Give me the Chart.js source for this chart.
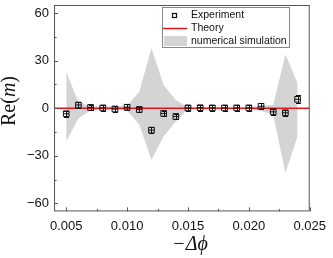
<!DOCTYPE html>
<html>
<head>
<meta charset="utf-8">
<script src="https://cdn.jsdelivr.net/npm/chart.js@4.4.0/dist/chart.umd.min.js"></script>
<style>
  html, body { margin: 0; padding: 0; background: #fff; }
  #wrap { width: 333px; height: 258px; }
</style>
</head>
<body>
<div id="wrap"><canvas id="reChart"></canvas></div>
<script>
// data
const phi = [0.005, 0.006, 0.007, 0.008, 0.009, 0.010, 0.011, 0.012, 0.013, 0.014,
             0.015, 0.016, 0.017, 0.018, 0.019, 0.020, 0.021, 0.022, 0.023, 0.024];
const expRe = [-3.5, 2.0, 0.5, 0.2, -0.5, 0.6, -0.8, -13.8, -3.3, -5.2,
               0.2, 0.3, 0.2, 0.2, 0.2, 0.2, 1.2, -2.3, -2.9, 5.6];
const expErr = [1.8, 1.8, 1.8, 1.8, 1.8, 1.8, 1.8, 1.8, 1.8, 1.8,
                1.8, 1.8, 1.8, 1.8, 1.8, 1.8, 1.8, 1.8, 1.8, 2.4];
const simUpper = [22.6, 4.2, 1.0, 1.0, 1.0, 1.4, 10.4, 37.7, 14.6, 5.2,
                  0.5, 0.5, 0.5, 0.5, 0.5, 0.5, 1.6, 2.0, 34.0, 15.7];
const simLower = [-21.0, -6.3, -1.5, -1.0, -1.0, -1.5, -10.5, -32.4, -17.8, -8.4,
                  -0.5, -0.5, -0.5, -0.5, -0.5, -0.5, -1.7, -4.2, -40.8, -17.6];
const theoryX = [0.004, 0.025];
const theoryY = [0, 0];
const xTicks = [0.005, 0.010, 0.015, 0.020, 0.025];
const xMinor = [0.0075, 0.0125, 0.0175, 0.0225];
const yTicks = [-60, -30, 0, 30, 60];
const yMinor = [-45, -15, 15, 45];

const pts = (xs, ys) => xs.map((x, i) => ({ x: x, y: ys[i] }));
const fmtMinus = v => String(v).replace('-', '\u2212');

// error bars on the experiment points
const errorBars = {
  id: 'errorBars',
  afterDatasetsDraw(chart) {
    const { ctx, scales: { x, y } } = chart;
    ctx.save();
    ctx.strokeStyle = '#111';
    ctx.lineWidth = 1;
    phi.forEach((p, i) => {
      const px = Math.round(x.getPixelForValue(p)) + 0.5;
      const top = Math.round(y.getPixelForValue(expRe[i] + expErr[i])) + 0.5;
      const bot = Math.round(y.getPixelForValue(expRe[i] - expErr[i])) + 0.5;
      ctx.beginPath();
      ctx.moveTo(px, top); ctx.lineTo(px, bot);
      ctx.moveTo(px - 2.5, top); ctx.lineTo(px + 2.5, top);
      ctx.moveTo(px - 2.5, bot); ctx.lineTo(px + 2.5, bot);
      ctx.stroke();
    });
    ctx.restore();
  }
};

// box frame, inward ticks, axis titles, legend
const frame = {
  id: 'frame',
  afterDraw(chart) {
    const { ctx, chartArea: a, scales: { x, y } } = chart;
    ctx.save();
    ctx.strokeStyle = '#555';
    ctx.lineWidth = 1;
    ctx.strokeRect(a.left + 0.5, a.top + 0.5, a.right - a.left - 1, a.bottom - a.top - 1);

    ctx.beginPath();
    xTicks.forEach(v => {
      const px = Math.round(x.getPixelForValue(v)) + 0.5;
      ctx.moveTo(px, a.bottom); ctx.lineTo(px, a.bottom - 4);
    });
    xMinor.forEach(v => {
      const px = Math.round(x.getPixelForValue(v)) + 0.5;
      ctx.moveTo(px, a.bottom); ctx.lineTo(px, a.bottom - 2.5);
    });
    yTicks.forEach(v => {
      const py = Math.round(y.getPixelForValue(v)) + 0.5;
      ctx.moveTo(a.left, py); ctx.lineTo(a.left + 4, py);
    });
    yMinor.forEach(v => {
      const py = Math.round(y.getPixelForValue(v)) + 0.5;
      ctx.moveTo(a.left, py); ctx.lineTo(a.left + 2.5, py);
    });
    ctx.stroke();

    // y title: Re(m) with italic m
    ctx.fillStyle = '#111';
    ctx.textBaseline = 'middle';
    ctx.save();
    ctx.translate(10, 101);
    ctx.rotate(-Math.PI / 2);
    const up = '20px "Liberation Serif", "Times New Roman", serif';
    const it = 'italic 20px "Liberation Serif", "Times New Roman", serif';
    const parts = [['Re(', up], ['m', it], [')', up]];
    let total = 0;
    parts.forEach(p => { ctx.font = p[1]; total += ctx.measureText(p[0]).width; });
    let cx = -total / 2;
    ctx.textAlign = 'left';
    parts.forEach(p => { ctx.font = p[1]; ctx.fillText(p[0], cx, 0); cx += ctx.measureText(p[0]).width; });
    ctx.restore();

    // x title: −Δϕ
    ctx.font = 'italic 20px "Liberation Serif", "Times New Roman", serif';
    ctx.textAlign = 'center';
    ctx.textBaseline = 'alphabetic';
    ctx.fillText('\u2212\u0394\u03d5', 190, 250);

    // legend
    const lx = 162, ly = 7, lw = 127, lh = 40;
    ctx.fillStyle = '#fff';
    ctx.fillRect(lx, ly, lw, lh);
    ctx.strokeStyle = '#888';
    ctx.strokeRect(lx + 0.5, ly + 0.5, lw, lh);
    ctx.font = '10.5px "Liberation Sans", Arial, sans-serif';
    ctx.textAlign = 'left';
    ctx.textBaseline = 'middle';
    ctx.fillStyle = '#111';
    const ds = chart.data.datasets;
    // experiment
    ctx.strokeStyle = '#111';
    ctx.lineWidth = 1.2;
    ctx.strokeRect(172.5, 13.5, 4, 4);
    ctx.fillText(ds[0].label, 191, 15.5);
    // theory
    ctx.strokeStyle = '#e8141c';
    ctx.lineWidth = 1.5;
    ctx.beginPath(); ctx.moveTo(163, 28.5); ctx.lineTo(187, 28.5); ctx.stroke();
    ctx.fillText(ds[2].label, 191, 28.5);
    // simulation
    ctx.fillStyle = '#d4d4d4';
    ctx.fillRect(164, 36, 23, 10);
    ctx.fillStyle = '#111';
    ctx.fillText(ds[3].label, 191, 41.5);
    ctx.restore();
  }
};

const noOverhang = s => { s.paddingTop = 0; s.paddingBottom = 0; };

new Chart(document.getElementById('reChart'), {
  type: 'scatter',
  data: {
    datasets: [
      {
        label: 'Experiment',
        data: pts(phi, expRe),
        pointStyle: 'rect',
        pointRadius: 4,
        pointBorderWidth: 1,
        pointBorderColor: '#111',
        pointBackgroundColor: 'rgba(255,255,255,0)',
        order: 0
      },
      {
        label: 'mid line',
        data: pts(phi, expRe),
        pointStyle: 'line',
        pointRadius: 2.8,
        pointBorderWidth: 1,
        pointBorderColor: '#111',
        order: 0
      },
      {
        label: 'Theory',
        data: pts(theoryX, theoryY),
        showLine: true,
        borderColor: '#e8141c',
        borderWidth: 1.6,
        pointRadius: 0,
        order: 1
      },
      {
        label: 'numerical simulation',
        data: pts(phi, simUpper),
        showLine: true,
        borderWidth: 0,
        borderColor: 'rgba(0,0,0,0)',
        backgroundColor: '#d4d4d4',
        pointRadius: 0,
        fill: '+1',
        order: 2
      },
      {
        label: 'sim lower',
        data: pts(phi, simLower),
        showLine: true,
        borderWidth: 0,
        borderColor: 'rgba(0,0,0,0)',
        backgroundColor: '#d4d4d4',
        pointRadius: 0,
        fill: false,
        order: 2
      }
    ]
  },
  options: {
    responsive: true,
    maintainAspectRatio: false,
    animation: false,
    layout: { padding: { left: 22, right: 20, top: 4, bottom: 17 } },
    plugins: {
      legend: { display: false },
      tooltip: { enabled: false }
    },
    scales: {
      x: {
        type: 'linear',
        min: 0.004,
        max: 0.025,
        afterBuildTicks: s => { s.ticks = xTicks.map(v => ({ value: v })); },
        ticks: {
          autoSkip: false,
          maxRotation: 0,
          padding: 7,
          color: '#111',
          font: { family: '"Liberation Sans", Arial, sans-serif', size: 13 },
          callback: v => v.toFixed(3)
        },
        grid: { display: false, drawTicks: false, tickLength: 0 },
        border: { display: false }
      },
      y: {
        min: -65,
        max: 65,
        afterBuildTicks: s => { s.ticks = yTicks.map(v => ({ value: v })); },
        afterFit: noOverhang,
        ticks: {
          padding: 5,
          color: '#111',
          font: { family: '"Liberation Sans", Arial, sans-serif', size: 13 },
          callback: v => fmtMinus(v)
        },
        grid: { display: false, drawTicks: false, tickLength: 0 },
        border: { display: false }
      }
    }
  },
  plugins: [errorBars, frame]
});
</script>
</body>
</html>
